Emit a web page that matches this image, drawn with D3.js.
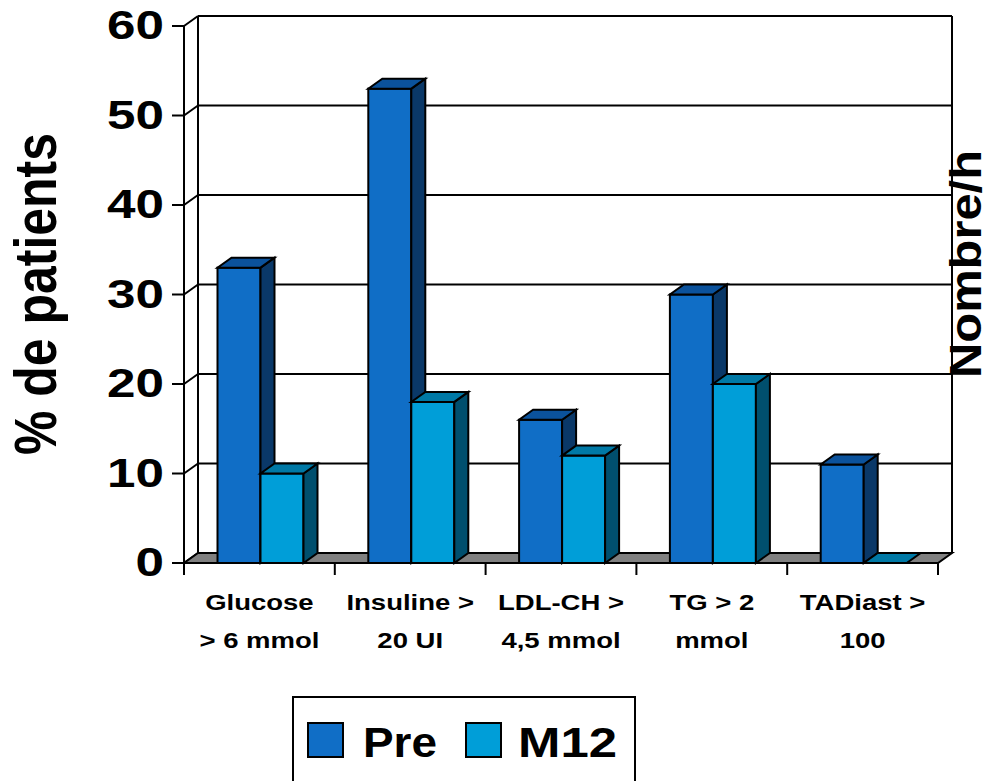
<!DOCTYPE html>
<meta charset="utf-8">
<script src="https://d3js.org/d3.v7.min.js"></script>
<style>
  body { margin: 0; background: #fff; font-family: Arial, "Liberation Sans", sans-serif; }
</style>
<body>
<div id="viz"></div>
<script>

// data
const categories = [["Glucose", "> 6 mmol"], ["Insuline >", "20 UI"], ["LDL-CH >", "4,5 mmol"], ["TG > 2", "mmol"], ["TADiast >", "100"]];
const pre = [33, 53, 16, 30, 11];
const m12 = [10, 18, 12, 20, 0];
const yTicks = [0, 10, 20, 30, 40, 50, 60];
const seriesNames = ["Pre", "M12"];

const W = 992, H = 781;
const dx = 14, dy = 10;  // depth offset of the 3D box
const sx = 1.25;         // the original picture is stretched sideways

const svg = d3.select("#viz").append("svg")
  .attr("width", W).attr("height", H);

const x = d3.scaleBand().domain(d3.range(categories.length)).range([184, 938]);
const y = d3.scaleLinear().domain([0, 60]).range([563, 26]);
const xs = d3.scaleBand().domain([0, 1]).range([0, 86]);

const colors = [
  {front: "#106EC6", top: "#0B529C", side: "#0A3868"},
  {front: "#009ED8", top: "#0079A6", side: "#004F6E"}
];

// back wall gridlines
const wall = svg.append("g").attr("stroke", "#000").attr("stroke-width", 2).attr("fill", "none");
yTicks.forEach(t => {
  if (t > 0) wall.append("line").attr("x1", 198).attr("x2", 952).attr("y1", y(t) - dy).attr("y2", y(t) - dy);
  wall.append("line").attr("x1", 184).attr("y1", y(t)).attr("x2", 198).attr("y2", y(t) - dy);
});
wall.append("line").attr("x1", 198).attr("x2", 198).attr("y1", y(60) - dy).attr("y2", y(0) - dy);
wall.append("line").attr("x1", 952).attr("x2", 952).attr("y1", y(60) - dy).attr("y2", y(0) - dy);

// floor
svg.append("path")
  .attr("d", `M184,${y(0)}L938,${y(0)}L${938 + dx},${y(0) - dy}L${198},${y(0) - dy}Z`)
  .attr("fill", "#808080").attr("stroke", "#000").attr("stroke-width", 2);

// bars
const bars = svg.append("g").attr("stroke", "#000").attr("stroke-width", 2);
categories.forEach((c, i) => {
  [pre[i], m12[i]].forEach((v, s) => {
    const x0 = x(i) + 33.5 + xs(s), w = xs.bandwidth();
    const yt = y(v), yb = y(0);
    const col = colors[s];
    if (v > 0) {
      bars.append("rect").attr("x", x0).attr("y", yt).attr("width", w).attr("height", yb - yt).attr("fill", col.front);
      bars.append("path").attr("fill", col.side)
        .attr("d", `M${x0 + w},${yt}L${x0 + w + dx},${yt - dy}L${x0 + w + dx},${yb - dy}L${x0 + w},${yb}Z`);
    }
    bars.append("path").attr("fill", col.top)
      .attr("d", `M${x0},${yt}L${x0 + w},${yt}L${x0 + w + dx},${yt - dy}L${x0 + dx},${yt - dy}Z`);
  });
});

// front axes
const ax = svg.append("g").attr("stroke", "#000").attr("stroke-width", 2);
ax.append("line").attr("x1", 184).attr("x2", 184).attr("y1", y(60)).attr("y2", y(0) + 12);
ax.append("line").attr("x1", 184).attr("x2", 938).attr("y1", y(0)).attr("y2", y(0));
yTicks.forEach(t => ax.append("line").attr("x1", 172).attr("x2", 184).attr("y1", y(t)).attr("y2", y(t)));
d3.range(categories.length + 1).forEach(i => {
  const xx = i < categories.length ? x(i) : 938;
  ax.append("line").attr("x1", xx).attr("x2", xx).attr("y1", y(0)).attr("y2", y(0) + 12);
});

// y tick labels
svg.append("g").selectAll("text").data(yTicks).join("text")
  .attr("transform", d => `translate(164,${y(d) + 13}) scale(1.28,1)`)
  .attr("text-anchor", "end").attr("font-size", 40).attr("font-weight", "bold")
  .text(d => d);

// category labels
categories.forEach((c, i) => {
  c.forEach((line, k) => {
    svg.append("text")
      .attr("transform", `translate(${x(i) + x.bandwidth() / 2},${610 + k * 38}) scale(${sx},1)`)
      .attr("text-anchor", "middle").attr("font-size", 22).attr("font-weight", "bold")
      .text(line);
  });
});

// axis titles
svg.append("text").attr("transform", `translate(56,294) scale(1.2,1) rotate(-90)`)
  .attr("text-anchor", "middle").attr("font-size", 50).attr("font-weight", "bold")
  .attr("textLength", 322).attr("lengthAdjust", "spacingAndGlyphs")
  .text("% de patients");
svg.append("text").attr("transform", `translate(981,264) scale(1.05,1) rotate(-90)`)
  .attr("text-anchor", "middle").attr("font-size", 43).attr("font-weight", "bold")
  .attr("textLength", 228).attr("lengthAdjust", "spacingAndGlyphs")
  .text("Nombre/h");

// legend
const lg = svg.append("g");
lg.append("rect").attr("x", 293).attr("y", 697).attr("width", 342).attr("height", 100)
  .attr("fill", "#fff").attr("stroke", "#000").attr("stroke-width", 2);
const lx = [308, 466], tx = [363, 518], tl = [74, 99];
seriesNames.forEach((n, s) => {
  lg.append("rect").attr("x", lx[s]).attr("y", 723).attr("width", 35).attr("height", 34)
    .attr("fill", colors[s].front).attr("stroke", "#000").attr("stroke-width", 2);
  lg.append("text").attr("x", tx[s]).attr("y", 757).attr("font-size", 42).attr("font-weight", "bold")
    .attr("textLength", tl[s]).attr("lengthAdjust", "spacingAndGlyphs").text(n);
});

</script>
</body>
